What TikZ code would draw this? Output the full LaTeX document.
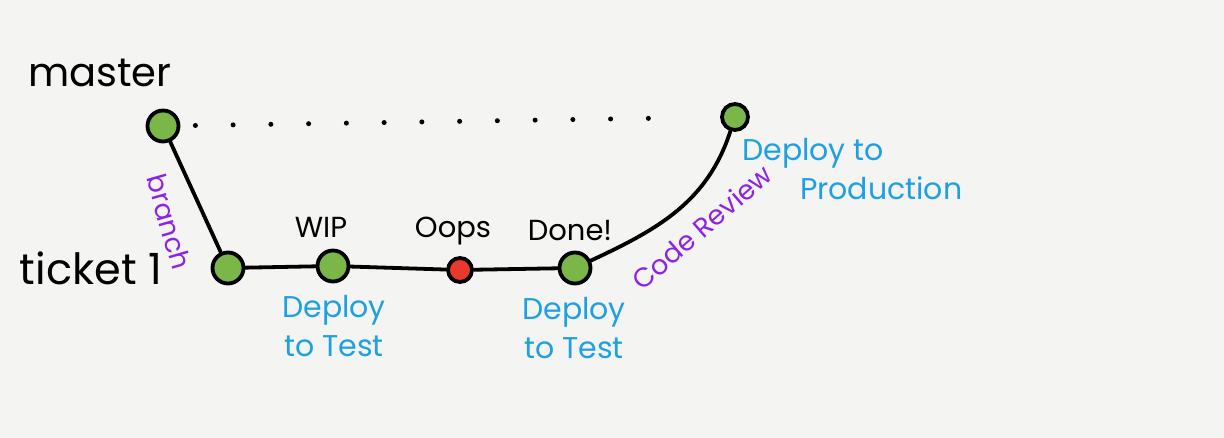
\documentclass[tikz,border=0pt]{standalone}
\usepackage{fontspec}
\setmainfont{Poppins}
\definecolor{paper}{HTML}{F4F4F3}
\definecolor{leaf}{HTML}{7AB648}
\definecolor{oopsred}{HTML}{E8392C}
\definecolor{sky}{HTML}{1EA0E2}
\definecolor{violet}{HTML}{8B22E6}
\begin{document}
\begin{tikzpicture}[x=1pt,y=1pt,
  commit/.style={circle,draw=black,line width=3.8pt,fill=leaf,minimum size=31pt,inner sep=0pt},
  badcommit/.style={commit,fill=oopsred,minimum size=24pt},
  link/.style={line width=3.8pt,line cap=round,black},
  dotline/.style={line width=5pt,line cap=round,dash pattern=on 0pt off 37.75pt,shorten <=15pt,shorten >=64pt},
  branchlbl/.style={font=\fontsize{40}{40}\selectfont,text=black,inner sep=0pt},
  commitlbl/.style={font=\fontsize{29}{29}\selectfont,text=black,inner sep=0pt},
  deploylbl/.style={font=\fontsize{30}{39}\selectfont,text=sky,inner sep=0pt,align=center},
  actionlbl/.style={font=\fontsize{27}{27}\selectfont,text=violet,inner sep=0pt}]
\useasboundingbox[fill=paper] (0,0) rectangle (1224,438);
% branch names
\node[branchlbl] (master) at (100,365) {master};
\node[branchlbl,font=\fontsize{43}{43}\selectfont] (ticket) at (91,170) {ticket 1};
% commits
\node[commit] (m) at (163,312) {};
\node[commit,minimum size=26pt] (e) at (735,321) {};
\node[commit] (t1) at (228,170) {};
\node[commit] (wip) at (333,172) {};
\node[badcommit] (oops) at (460,168) {};
\node[commit] (done) at (575,170) {};
% connectors
\draw[link] (m) -- (t1);
\draw[link] (t1) -- (wip);
\draw[link] (wip) -- (oops);
\draw[link] (oops) -- (done);
\draw[link] (done) to[out=25,in=-108] (e);
\draw[dotline] (m) -- (e);
% commit labels
\node[commitlbl] (lwip) at (321,211) {WIP};
\node[commitlbl] (loops) at (453,207) {Oops};
\node[commitlbl] (ldone) at (570,207) {Done!};
% deploy labels
\node[deploylbl] (dt1) at (334,112) {Deploy\\to Test};
\node[deploylbl] (dt2) at (574,110) {Deploy\\to Test};
\node[deploylbl,anchor=north west,align=left] (dp) at (742,300) {Deploy to\\\hspace*{58pt}Production};
% action labels
\node[actionlbl,rotate=-74] (lbranch) at (169,216) {branch};
\node[actionlbl,rotate=41] (lcr) at (702,211) {Code Review};
\end{tikzpicture}
\end{document}
